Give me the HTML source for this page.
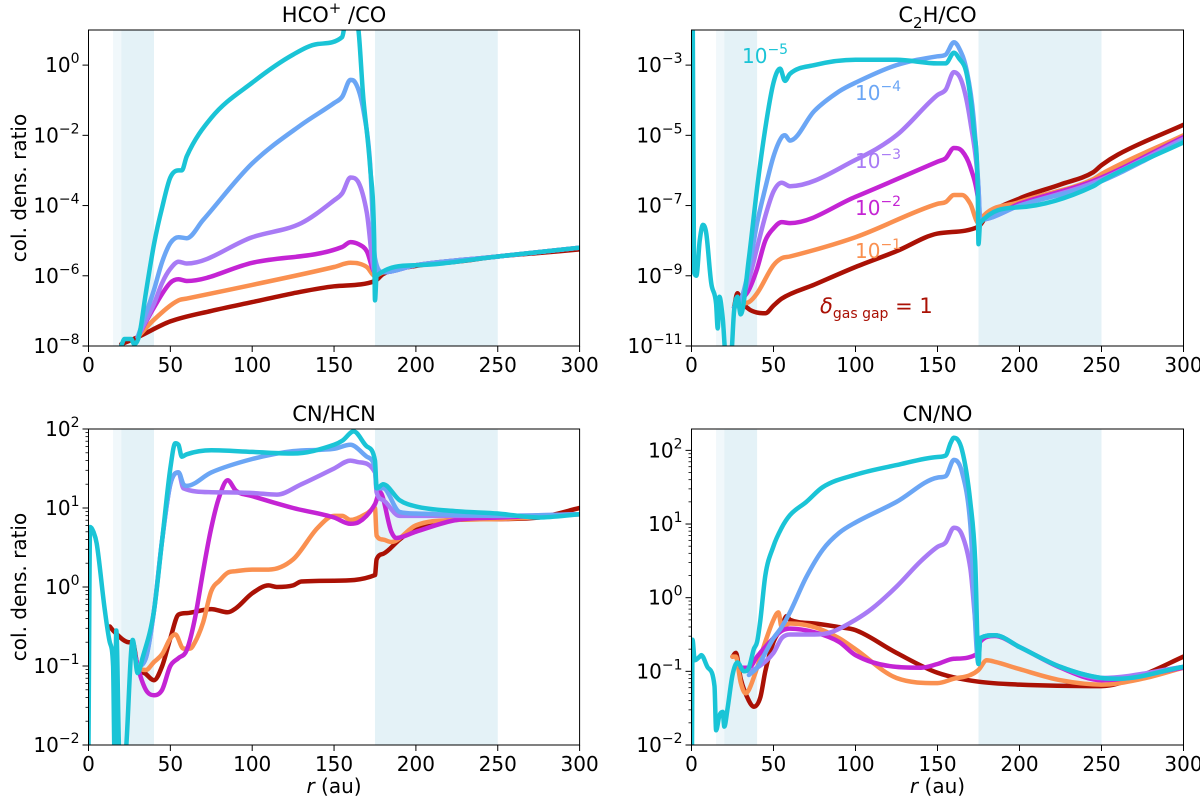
<!DOCTYPE html>
<html><head><meta charset="utf-8">
<style>
body{margin:0;background:#fff;}
svg{display:block;font-family:"DejaVu Sans","Liberation Sans",sans-serif;}
</style></head>
<body>
<svg id="fig" width="1200" height="801" viewBox="0 0 1200 801" xmlns="http://www.w3.org/2000/svg"></svg>
<script>
// ---- data (r in au, values as log10 of column density ratio) ----
const colors = ["#aa1105","#fa9050","#c424d4","#a87bf5","#6ba6f5","#1ac4d6"];
const seriesNames = ["delta-1","delta-1e-1","delta-1e-2","delta-1e-3","delta-1e-4","delta-1e-5"];

// Panel 1: HCO+/CO
const hcoR0 = [20,30,50,75,100,125,150,175,180,200,225,250,275,300];
const hcoV0 = [-7.95,-7.75,-7.3,-7.0,-6.75,-6.5,-6.3,-6.15,-5.95,-5.72,-5.6,-5.45,-5.35,-5.25];
const hcoR1 = [30,40,55,60,100,150,160,165,170,175,180,200,250,300];
const hcoV1 = [-7.75,-7.25,-6.7,-6.65,-6.26,-5.75,-5.63,-5.65,-5.75,-6.0,-5.9,-5.7,-5.45,-5.2];
const hcoR2 = [30,40,50,55,60,100,155,160,165,170,175,180,200,250,300];
const hcoV2 = [-7.75,-6.9,-6.2,-6.1,-6.15,-5.63,-5.18,-5.04,-5.1,-5.3,-5.9,-5.9,-5.7,-5.45,-5.2];
const hcoR3 = [30,40,45,50,55,60,100,130,150,155,160,165,170,175,180,200,250,300];
const hcoV3 = [-7.75,-6.8,-6.2,-5.8,-5.6,-5.65,-4.9,-4.5,-3.85,-3.65,-3.2,-3.35,-4.2,-5.9,-5.9,-5.7,-5.45,-5.2];
const hcoR4 = [30,40,45,50,55,60,70,100,130,150,155,160,163,168,172,175,180,200,250,300];
const hcoV4 = [-7.75,-6.4,-5.6,-5.07,-4.9,-4.93,-4.41,-2.8,-1.7,-1.08,-0.9,-0.42,-0.5,-1.3,-2.8,-5.5,-5.9,-5.7,-5.45,-5.2];
const hcoR5 = [20,22,26,28,31,35,40,45,50,55,57,60,75,100,125,140,155,157,164,168,172,174.5,175,176,200,250,300];
const hcoV5 = [-8,-7.8,-7.8,-7.95,-7.7,-6.5,-5.1,-4.05,-3.2,-3.0,-3.0,-2.6,-1.5,-0.5,0.3,0.6,0.8,1.2,1.2,-1.0,-2.9,-5,-6.7,-6.0,-5.7,-5.45,-5.2];

// Panel 2: C2H/CO
const c2hR0 = [26,28,30,35,40,45,50,55,75,100,125,150,175,180,200,225,245,250,260,300];
const c2hV0 = [-9.9,-9.5,-9.7,-9.95,-10.05,-10.07,-9.85,-9.65,-9.25,-8.75,-8.3,-7.8,-7.6,-7.3,-6.8,-6.4,-6.05,-5.85,-5.55,-4.7];
const c2hR1 = [26,30,35,40,50,55,60,100,150,155,160,165,170,175,176,200,245,250,300];
const c2hV1 = [-9.9,-9.8,-9.75,-9.5,-8.7,-8.5,-8.45,-7.9,-6.95,-6.9,-6.7,-6.7,-6.95,-7.5,-7.4,-6.9,-6.25,-6.1,-5.0];
const c2hR2 = [26,30,35,40,45,50,55,60,100,150,155,160,165,170,175,176,200,245,300];
const c2hV2 = [-9.9,-9.7,-9.4,-8.8,-8.0,-7.65,-7.47,-7.5,-6.75,-5.75,-5.65,-5.36,-5.45,-5.9,-6.9,-7.4,-6.95,-6.3,-5.05];
const c2hR3 = [26,30,35,40,45,50,55,60,100,125,150,155,160,165,170,175,176,200,245,300];
const c2hV3 = [-9.9,-9.7,-9.1,-8.2,-7.3,-6.6,-6.35,-6.45,-5.7,-5.0,-3.85,-3.7,-3.2,-3.5,-4.6,-6.5,-7.4,-7.0,-6.35,-5.1];
const c2hR4 = [26,30,35,40,45,50,55,57,60,75,90,100,125,150,155,160,163,168,172,175,176,200,245,300];
const c2hV4 = [-9.9,-9.7,-8.8,-7.5,-6.5,-5.6,-5.05,-5.0,-5.15,-4.3,-3.75,-3.5,-3.0,-2.75,-2.7,-2.35,-2.5,-3.2,-4.5,-6.5,-7.4,-7.0,-6.4,-5.15];
const c2hR5 = [0,0.8,1.5,3,5,7,9,12,15,16,17,19,21,24,26,28,30,35,40,45,50,54,57,60,75,100,125,150,155,160,163,168,172,174.5,175,176,200,245,250,300];
const c2hV5 = [-2,-2,-8.9,-9.0,-8,-7.55,-7.8,-9.2,-9.8,-10.5,-9.6,-10.2,-11.3,-11.3,-10,-9.6,-10.1,-8.5,-6.5,-4.8,-3.5,-3.1,-3.45,-3.25,-3.0,-2.85,-2.85,-2.95,-2.95,-2.65,-2.8,-3.3,-4.8,-6.5,-8.1,-7.5,-7.05,-6.45,-6.3,-5.2];

// Panel 3: CN/HCN
const hcnR0 = [13,15,25,27,30,35,40,45,50,55,60,75,85,90,100,110,115,125,130,150,175,176,180,190,200,225,250,275,300];
const hcnV0 = [-0.5,-0.55,-0.7,-0.7,-1.0,-1.1,-1.18,-1.0,-0.65,-0.35,-0.33,-0.28,-0.32,-0.27,-0.08,0.02,0.0,0.02,0.07,0.08,0.15,0.35,0.42,0.6,0.75,0.85,0.86,0.88,1.0];
const hcnR1 = [27,30,35,40,45,50,53,58,62,65,70,75,80,85,90,100,110,125,140,150,155,160,170,175,176,180,185,200,225,250,300];
const hcnV1 = [-0.7,-1.0,-1.05,-0.95,-0.85,-0.65,-0.6,-0.78,-0.78,-0.7,-0.45,-0.05,0.08,0.18,0.2,0.22,0.22,0.35,0.75,0.9,0.9,0.85,0.93,1.0,0.65,0.6,0.57,0.78,0.85,0.86,0.92];
const hcnR2 = [27,30,35,40,45,50,55,60,65,70,75,80,85,90,100,125,150,160,165,175,178,185,188,200,225,250,300];
const hcnV2 = [-0.7,-1.0,-1.3,-1.37,-1.3,-1.0,-0.9,-0.8,-0.4,0.2,0.75,1.15,1.35,1.22,1.15,1.0,0.88,0.8,0.82,1.05,1.2,0.7,0.62,0.7,0.85,0.88,0.92];
const hcnR3 = [27,30,35,40,45,50,55,58,75,100,115,130,150,160,165,175,176,180,190,250,300];
const hcnV3 = [-0.7,-1.0,-0.9,-0.3,0.6,1.3,1.45,1.25,1.2,1.19,1.17,1.3,1.5,1.6,1.58,1.45,1.2,1.1,0.9,0.9,0.92];
const hcnR4 = [27,30,35,40,45,50,55,58,60,75,100,125,150,160,170,175,176,180,190,200,250,300];
const hcnV4 = [-0.7,-1.0,-0.9,-0.3,0.6,1.3,1.45,1.3,1.28,1.45,1.62,1.72,1.75,1.8,1.65,1.5,1.25,1.25,0.95,0.93,0.9,0.92];
const hcnR5 = [0,1,3,5,10,13,15,16,17,19,22,27,30,33,40,45,50,53,55,57,60,75,100,125,150,155,162,170,175,176,180,190,200,225,250,275,300];
const hcnV5 = [-2,0.76,0.7,0.55,-0.3,-0.7,-1,-2.2,-0.55,-2.2,-2.2,-0.67,-1.09,-0.9,-0.3,0.6,1.5,1.82,1.8,1.65,1.68,1.73,1.71,1.69,1.8,1.85,1.97,1.78,1.6,1.25,1.3,1.1,1.02,0.96,0.93,0.88,0.92];

// Panel 4: CN/NO
const noR0 = [25,27,30,35,38,42,45,50,55,58,60,75,90,100,125,150,175,200,250,275,300];
const noV0 = [-0.8,-0.75,-1.1,-1.4,-1.48,-1.35,-1.0,-0.6,-0.4,-0.25,-0.3,-0.35,-0.4,-0.44,-0.75,-1.02,-1.14,-1.18,-1.2,-1.05,-0.8];
const noR1 = [25,27,30,33,35,40,45,50,53,55,60,75,90,100,125,150,160,170,175,180,185,200,225,250,275,300];
const noV1 = [-0.8,-0.8,-1.15,-1.3,-1.25,-0.95,-0.6,-0.3,-0.2,-0.4,-0.35,-0.4,-0.55,-0.7,-1.09,-1.16,-1.1,-1.05,-0.98,-0.85,-0.87,-0.97,-1.12,-1.18,-1.1,-0.95];
const noR2 = [30,35,40,50,55,60,75,90,100,125,140,150,160,175,176,185,200,225,250,300];
const noV2 = [-0.95,-0.95,-0.8,-0.55,-0.45,-0.42,-0.47,-0.6,-0.78,-0.94,-0.95,-0.9,-0.83,-0.75,-0.6,-0.52,-0.67,-0.95,-1.12,-0.95];
const noR3 = [35,40,50,55,60,75,85,100,110,125,140,150,155,160,165,170,175,176,185,200,225,250,300];
const noV3 = [-1.0,-0.95,-0.75,-0.55,-0.5,-0.5,-0.47,-0.3,-0.15,0.15,0.5,0.69,0.75,0.95,0.85,0.4,-0.6,-0.55,-0.51,-0.67,-0.94,-1.09,-0.94];
const noR4 = [35,40,45,50,55,60,70,80,90,100,125,150,155,160,165,170,175,176,185,200,225,250,260,300];
const noV4 = [-1.05,-0.95,-0.75,-0.55,-0.4,-0.2,0.28,0.65,0.88,1.02,1.3,1.63,1.65,1.87,1.7,1.0,-0.9,-0.55,-0.51,-0.67,-0.94,-1.09,-1.1,-0.94];
const noR5 = [0.3,0.6,2,5,6,10,14,15,17,19,20,22,25,28,32,35,38,40,42,45,50,55,60,70,80,100,125,150,155,158,160,165,170,173,175,176,185,200,225,250,260,300];
const noV5 = [-2,-0.57,-0.85,-0.8,-0.78,-0.95,-1.2,-1.8,-1.6,-1.55,-1.75,-1.5,-1.05,-0.88,-1.0,-0.95,-0.7,-0.6,-0.3,0.3,0.7,0.95,1.12,1.3,1.5,1.67,1.8,1.91,1.93,2.1,2.17,2.0,1.3,0.5,-0.9,-0.55,-0.51,-0.67,-0.94,-1.09,-1.1,-0.94];

const xTicks = [0,50,100,150,200,250,300];
const shadeBands = [[15,20,"#f1f8fb"],[20,40,"#e4f2f7"],[175,250,"#e4f2f7"]];

const panels = [
 {name:"hco-co", title:'HCO<tspan dy="-9" font-size="15">+</tspan><tspan dy="9"> /CO</tspan>', x0:88.5,x1:579.6,y0:30,y1:346,lmin:-8,lmax:1,yt:[-8,-6,-4,-2,0],minor:false,ylab:true,xlab:false,
  R:[hcoR0,hcoR1,hcoR2,hcoR3,hcoR4,hcoR5],V:[hcoV0,hcoV1,hcoV2,hcoV3,hcoV4,hcoV5]},
 {name:"c2h-co", title:'C<tspan dy="6" font-size="15">2</tspan><tspan dy="-6">H/CO</tspan>', x0:691.5,x1:1183.5,y0:30,y1:346,lmin:-11,lmax:-2,yt:[-11,-9,-7,-5,-3],minor:false,ylab:false,xlab:false,
  R:[c2hR0,c2hR1,c2hR2,c2hR3,c2hR4,c2hR5],V:[c2hV0,c2hV1,c2hV2,c2hV3,c2hV4,c2hV5]},
 {name:"cn-hcn", title:'CN/HCN', x0:88.5,x1:579.6,y0:429,y1:745,lmin:-2,lmax:2,yt:[-2,-1,0,1,2],minor:true,ylab:true,xlab:true,
  R:[hcnR0,hcnR1,hcnR2,hcnR3,hcnR4,hcnR5],V:[hcnV0,hcnV1,hcnV2,hcnV3,hcnV4,hcnV5]},
 {name:"cn-no", title:'CN/NO', x0:691.5,x1:1183.5,y0:429,y1:745,lmin:-2,lmax:2.29,yt:[-2,-1,0,1,2],minor:true,ylab:false,xlab:true,
  R:[noR0,noR1,noR2,noR3,noR4,noR5],V:[noV0,noV1,noV2,noV3,noV4,noV5]}
];

const NS="http://www.w3.org/2000/svg";
const svg=document.getElementById('fig');
function mk(tag,attrs,parent){const e=document.createElementNS(NS,tag);for(const k in attrs)e.setAttribute(k,attrs[k]);(parent||svg).appendChild(e);return e;}

// monotone cubic (Fritsch-Carlson) path through screen points
function monoPath(xs,ys){
  const n=xs.length;if(n<2)return '';
  const dx=[],m=[],t=new Array(n);
  for(let i=0;i<n-1;i++){dx.push(xs[i+1]-xs[i]);m.push((ys[i+1]-ys[i])/(dx[i]||1e-6));}
  t[0]=m[0];t[n-1]=m[n-2];
  for(let i=1;i<n-1;i++){t[i]=(m[i-1]*m[i]<=0)?0:(m[i-1]+m[i])/2;}
  for(let i=0;i<n-1;i++){
    if(m[i]===0){t[i]=0;t[i+1]=0;continue;}
    const a=t[i]/m[i],b=t[i+1]/m[i],s=a*a+b*b;
    if(s>9){const k=3/Math.sqrt(s);t[i]=k*a*m[i];t[i+1]=k*b*m[i];}
  }
  let d='M'+xs[0].toFixed(1)+' '+ys[0].toFixed(1);
  for(let i=0;i<n-1;i++){
    const h=dx[i]/3;
    d+=' C'+(xs[i]+h).toFixed(1)+' '+(ys[i]+t[i]*h).toFixed(1)+' '+(xs[i+1]-h).toFixed(1)+' '+(ys[i+1]-t[i+1]*h).toFixed(1)+' '+xs[i+1].toFixed(1)+' '+ys[i+1].toFixed(1);
  }
  return d;
}

panels.forEach((p,pi)=>{
  const g=mk('g',{});
  
  
  const sx=r=>p.x0+(r/300)*(p.x1-p.x0);
  const sy=l=>p.y1-(l-p.lmin)/(p.lmax-p.lmin)*(p.y1-p.y0);
  const cid='clip'+pi;
  const cp=mk('clipPath',{id:cid},g);
  mk('rect',{x:p.x0,y:p.y0,width:p.x1-p.x0,height:p.y1-p.y0},cp);
  shadeBands.forEach(b=>{
    const s=mk('rect',{x:sx(b[0]),y:p.y0,width:sx(b[1])-sx(b[0]),height:p.y1-p.y0,fill:b[2]},g);
    
    
  });
  const lg=mk('g',{'clip-path':'url(#'+cid+')'},g);
  p.R.forEach((rs,si)=>{
    const vs=p.V[si];
    const d=monoPath(rs.map(sx),vs.map(sy));
    const path=mk('path',{d:d,fill:'none',stroke:colors[si],'stroke-width':4.5,'stroke-linejoin':'round','stroke-linecap':'round'},lg);
    
    
  });
  const fr=mk('rect',{x:p.x0,y:p.y0,width:p.x1-p.x0,height:p.y1-p.y0,fill:'none',stroke:'#000','stroke-width':1},g);
  
  
  xTicks.forEach(t=>{
    mk('line',{x1:sx(t),x2:sx(t),y1:p.y1,y2:p.y1+6,stroke:'#000','stroke-width':1},g);
    const tx=mk('text',{x:sx(t),y:p.y1+26,'font-size':20,'text-anchor':'middle'},g);
    tx.textContent=t;
    
    
  });
  p.yt.forEach(t=>{
    const y=sy(t);
    mk('line',{x1:p.x0-6,x2:p.x0,y1:y,y2:y,stroke:'#000','stroke-width':1},g);
    const tx=mk('text',{x:p.x0-9,y:y+7,'font-size':20,'text-anchor':'end'},g);
    tx.innerHTML='10<tspan dy="-9" font-size="14">'+String(t).replace('-','\u2212')+'</tspan>';
    
    
  });
  if(p.minor){
    for(let d=Math.floor(p.lmin);d<p.lmax;d++){for(let k=2;k<10;k++){const l=d+Math.log10(k);if(l>p.lmax)continue;const y=sy(l);
      mk('line',{x1:p.x0-3,x2:p.x0,y1:y,y2:y,stroke:'#000','stroke-width':0.8},g);}}
  }
  const ti=mk('text',{x:(p.x0+p.x1)/2,y:p.y0-8,'font-size':21,'text-anchor':'middle'},g);
  ti.innerHTML=p.title;
  
  
  if(p.ylab){
    const yl=mk('text',{x:0,y:0,'font-size':20,'text-anchor':'middle',transform:'translate(26,'+((p.y0+p.y1)/2)+') rotate(-90)'},g);
    yl.textContent='col. dens. ratio';
    
    
  }
  if(p.xlab){
    const xl=mk('text',{x:(p.x0+p.x1)/2,y:p.y1+48,'font-size':20,'text-anchor':'middle'},g);
    xl.innerHTML='<tspan font-style="italic">r</tspan> (au)';
    
    
  }
});

const annTexts=["\u22125","\u22124","\u22123","\u22122","\u22121"];
const annColors=["#1ac4d6","#6ba6f5","#a87bf5","#c424d4","#fa9050"];
const annPos=[[742,63],[855,100],[855,168],[855,215],[855,258]];
annTexts.forEach((t,i)=>{
  const a=mk('text',{x:annPos[i][0],y:annPos[i][1],'font-size':20,fill:annColors[i]});
  a.innerHTML='10<tspan dy="-9" font-size="14">'+t+'</tspan>';
  
  
});
const dl=mk('text',{x:820,y:313,'font-size':21,fill:'#aa1105'});
dl.innerHTML='<tspan font-style="italic">\u03b4</tspan><tspan dy="5" font-size="14">gas gap</tspan><tspan dy="-5"> = 1</tspan>';


</script>
</body></html>
